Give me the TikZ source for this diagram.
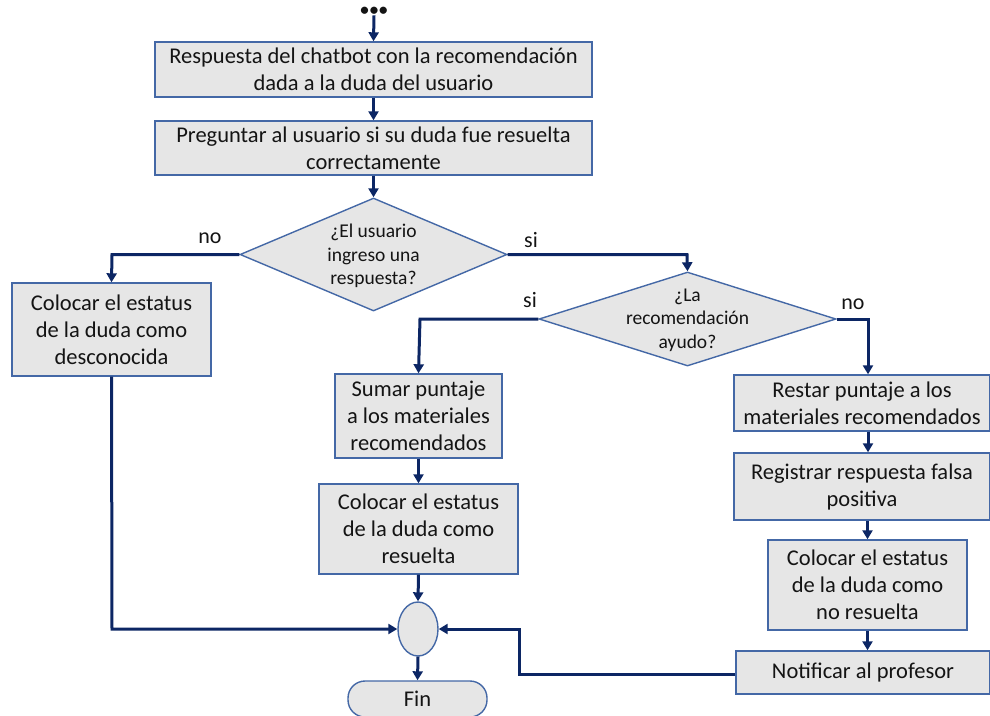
\documentclass[tikz,border=0pt]{standalone}
\usepackage{fontspec}
\setmainfont{Carlito}
\usetikzlibrary{shapes.geometric,arrows.meta}
\definecolor{boxfill}{RGB}{230,230,230}
\definecolor{boxline}{RGB}{68,104,166}
\definecolor{arrowc}{RGB}{12,38,100}
\definecolor{txt}{RGB}{20,20,20}
\tikzset{
  box/.style={draw=boxline, line width=1.4pt, fill=boxfill, inner sep=0pt, align=center, text=txt,
    font=\fontsize{22.5}{27}\selectfont},
  dia/.style={diamond, draw=boxline, line width=1.4pt, fill=boxfill, inner sep=0pt},
  diatext/.style={align=center, text=txt, inner sep=0pt, font=\fontsize{19.5}{23.5}\selectfont},
  conn/.style={draw=arrowc, line width=3pt, -{Triangle[width=10pt,length=9pt]}},
  lab/.style={text=txt, font=\fontsize{22}{24}\selectfont, inner sep=0pt},
}
\begin{document}
\begin{tikzpicture}[x=1pt,y=-1pt]
\useasboundingbox (0,0) rectangle (990,715);
\node[text=txt, font=\fontsize{17}{17}\selectfont\bfseries, inner sep=0pt] (dots) at (374,11) {•\kern1pt•\kern1pt•};
\node[box, minimum width=437pt, minimum height=55pt] (b1) at (373.5,69.5) {Respuesta del chatbot con la recomendación\\dada a la duda del usuario};
\node[box, minimum width=437pt, minimum height=54pt] (b2) at (373.5,148) {Preguntar al usuario si su duda fue resuelta\\correctamente};
\node[dia, minimum width=267pt, minimum height=113pt] (d1) at (373.5,254.5) {};
\node[diatext] (d1t) at (373.5,256) {¿El usuario\\ingreso una\\respuesta?};
\node[box, minimum width=199pt, minimum height=93pt] (b3) at (111.5,329.5) {Colocar el estatus\\de la duda como\\desconocida};
\node[dia, minimum width=297pt, minimum height=94pt] (d2) at (687.5,319) {};
\node[diatext] (d2t) at (687.5,320) {¿La\\recomendación\\ayudo?};
\node[box, minimum width=167pt, minimum height=84pt] (b4) at (418.5,416) {Sumar puntaje\\a los materiales\\recomendados};
\node[box, minimum width=199pt, minimum height=90pt] (b5) at (418.5,529) {Colocar el estatus\\de la duda como\\resuelta};
\node[box, minimum width=256pt, minimum height=56pt] (b6) at (862,403) {Restar puntaje a los\\materiales recomendados};
\node[box, minimum width=256pt, minimum height=67pt] (b7) at (862,486.5) {Registrar respuesta falsa\\positiva};
\node[box, minimum width=199pt, minimum height=90pt] (b8) at (867.5,585) {Colocar el estatus\\de la duda como\\no resuelta};
\node[box, minimum width=254pt, minimum height=43pt] (b9) at (863,672.5) {Notificar al profesor};
\node[ellipse, draw=boxline, line width=1.4pt, fill=boxfill, inner sep=0pt, minimum width=40pt, minimum height=54pt] (c) at (418,629) {};
\node[box, rounded corners=17pt, minimum width=139pt, minimum height=36pt] (fin) at (417.5,699) {Fin};
\coordinate (dl) at (112,254.5);
\coordinate (dr) at (687,254.5);
\coordinate (d2l) at (420,319);
\coordinate (d2r) at (868,319);
\coordinate (b3c) at (112,629);
\coordinate (b9a) at (519,674);
\coordinate (b9b) at (519,629);
\draw[conn] (dots.south) -- (b1.north);
\draw[conn] (b1.south) -- (b2.north);
\draw[conn] (b2.south) -- (d1.north);
\draw[conn] (d1.west) -- (dl) -- (b3.north);
\draw[conn] (d1.east) -- (dr) -- (d2.north);
\draw[conn] (d2.west) -- (d2l) -- (b4.north);
\draw[conn] (d2.east) -- (d2r) -- (b6.north -| d2r);
\draw[conn] (b4.south) -- (b5.north);
\draw[conn] (b6.south -| d2r) -- (b7.north -| d2r);
\draw[conn] (b7.south -| b8.north) -- (b8.north);
\draw[conn] (b8.south) -- (b9.north -| b8.south);
\draw[conn] (b3.south) -- (b3c) -- (c.west);
\draw[conn] (b5.south) -- (c.north);
\draw[conn] (b9.west |- b9a) -- (b9a) -- (b9b) -- (c.east);
\draw[conn] (c.south) -- (fin.north);
\node[lab] (lno1) at (210,238) {no};
\node[lab] (lsi1) at (531,240) {si};
\node[lab] (lsi2) at (530,300) {si};
\node[lab] (lno2) at (853,304) {no};
\end{tikzpicture}
\end{document}
